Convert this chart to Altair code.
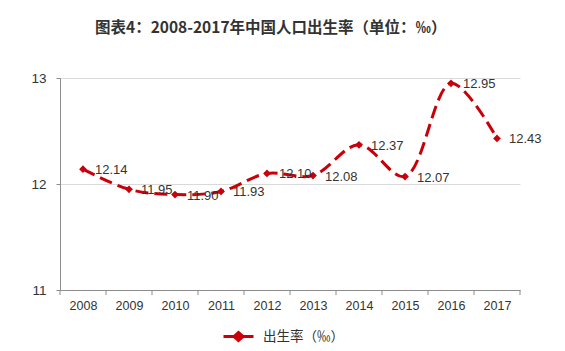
import altair as alt
import pandas as pd

years = [2008, 2009, 2010, 2011, 2012, 2013, 2014, 2015, 2016, 2017]
birth_rate = [12.14, 11.95, 11.90, 11.93, 12.10, 12.08, 12.37, 12.07, 12.95, 12.43]
series_name = "出生率（‰）"
y_ticks = [11, 12, 13]
title_text = "图表4：2008-2017年中国人口出生率（单位：‰）"

df = pd.DataFrame({"year": years, "rate": birth_rate, "series": [series_name] * len(years)})
bounds = pd.DataFrame({"b": [y - 0.5 for y in years] + [years[-1] + 0.5]})

RED = "#c8000a"
NUM_FONT = "Liberation Sans"
CJK_FONT = "Noto Sans CJK SC"

xscale = alt.Scale(domain=[years[0] - 0.5, years[-1] + 0.5], nice=False, zero=False)
yscale = alt.Scale(domain=[y_ticks[0], y_ticks[-1]], nice=False, zero=False)

x_axis = alt.Axis(values=years, format="d", ticks=False, grid=False, title=None,
                  labelFont=NUM_FONT, labelFontSize=12.5, labelColor="#333333",
                  labelPadding=9, domainColor="#8c8c8c", labelFlush=False)
y_axis = alt.Axis(tickCount=len(y_ticks) - 1, title=None, labelFont=NUM_FONT, labelFontSize=13.5,
                  labelColor="#333333", labelPadding=10, tickSize=4, labelOverlap=False,
                  tickColor="#8c8c8c", domainColor="#8c8c8c",
                  gridColor="#d9d9d9", format="d")

x_enc = alt.X("year:Q", scale=xscale, axis=x_axis)
y_enc = alt.Y("rate:Q", scale=yscale, axis=y_axis)

color_enc = alt.Color("series:N", scale=alt.Scale(range=[RED]),
                      legend=alt.Legend(title=None, orient="none", legendX=167, legendY=247,
                                        symbolType="M-1.5,0L-0.45,0M-0.45,0L0,-0.4L0.45,0L0,0.4ZM0.45,0L1.5,0",
                                        symbolSize=400, symbolStrokeWidth=3,
                                        symbolFillColor=RED, symbolStrokeColor=RED,
                                        labelFont=CJK_FONT, labelFontSize=13.5,
                                        labelColor="#333333", labelOffset=13))

line = alt.Chart(df).mark_line(interpolate="catmull-rom", strokeWidth=3,
                               strokeDash=[13, 6]).encode(x=x_enc, y=y_enc, color=color_enc)
points = alt.Chart(df).mark_point(shape="diamond", filled=True, size=60, opacity=1,
                                  color=RED).encode(x=x_enc, y=y_enc)
labels = alt.Chart(df).mark_text(align="left", baseline="middle", dx=12, dy=1,
                                 font=NUM_FONT, fontSize=13, color="#333333").encode(
    x=x_enc, y=y_enc, text=alt.Text("rate:Q", format=".2f"))
ticks = alt.Chart(bounds).mark_rule(color="#8c8c8c", strokeWidth=1).encode(
    x=alt.X("b:Q", scale=xscale, axis=x_axis), y=alt.value(212), y2=alt.value(217))

chart = alt.layer(ticks, line, points, labels).properties(
    width=460, height=212,
    padding={"left": 60, "top": 78, "right": 45, "bottom": 61},
    autosize=alt.AutoSizeParams(type="none"),
    title=alt.TitleParams(title_text, anchor="start", frame="group", dx=35, offset=35,
                          font=CJK_FONT, fontSize=15.5, fontWeight="bold", color="#333333"),
    background="white",
).configure_view(strokeWidth=0)

chart.save("out.html", embed_options={"renderer": "svg", "actions": False})
